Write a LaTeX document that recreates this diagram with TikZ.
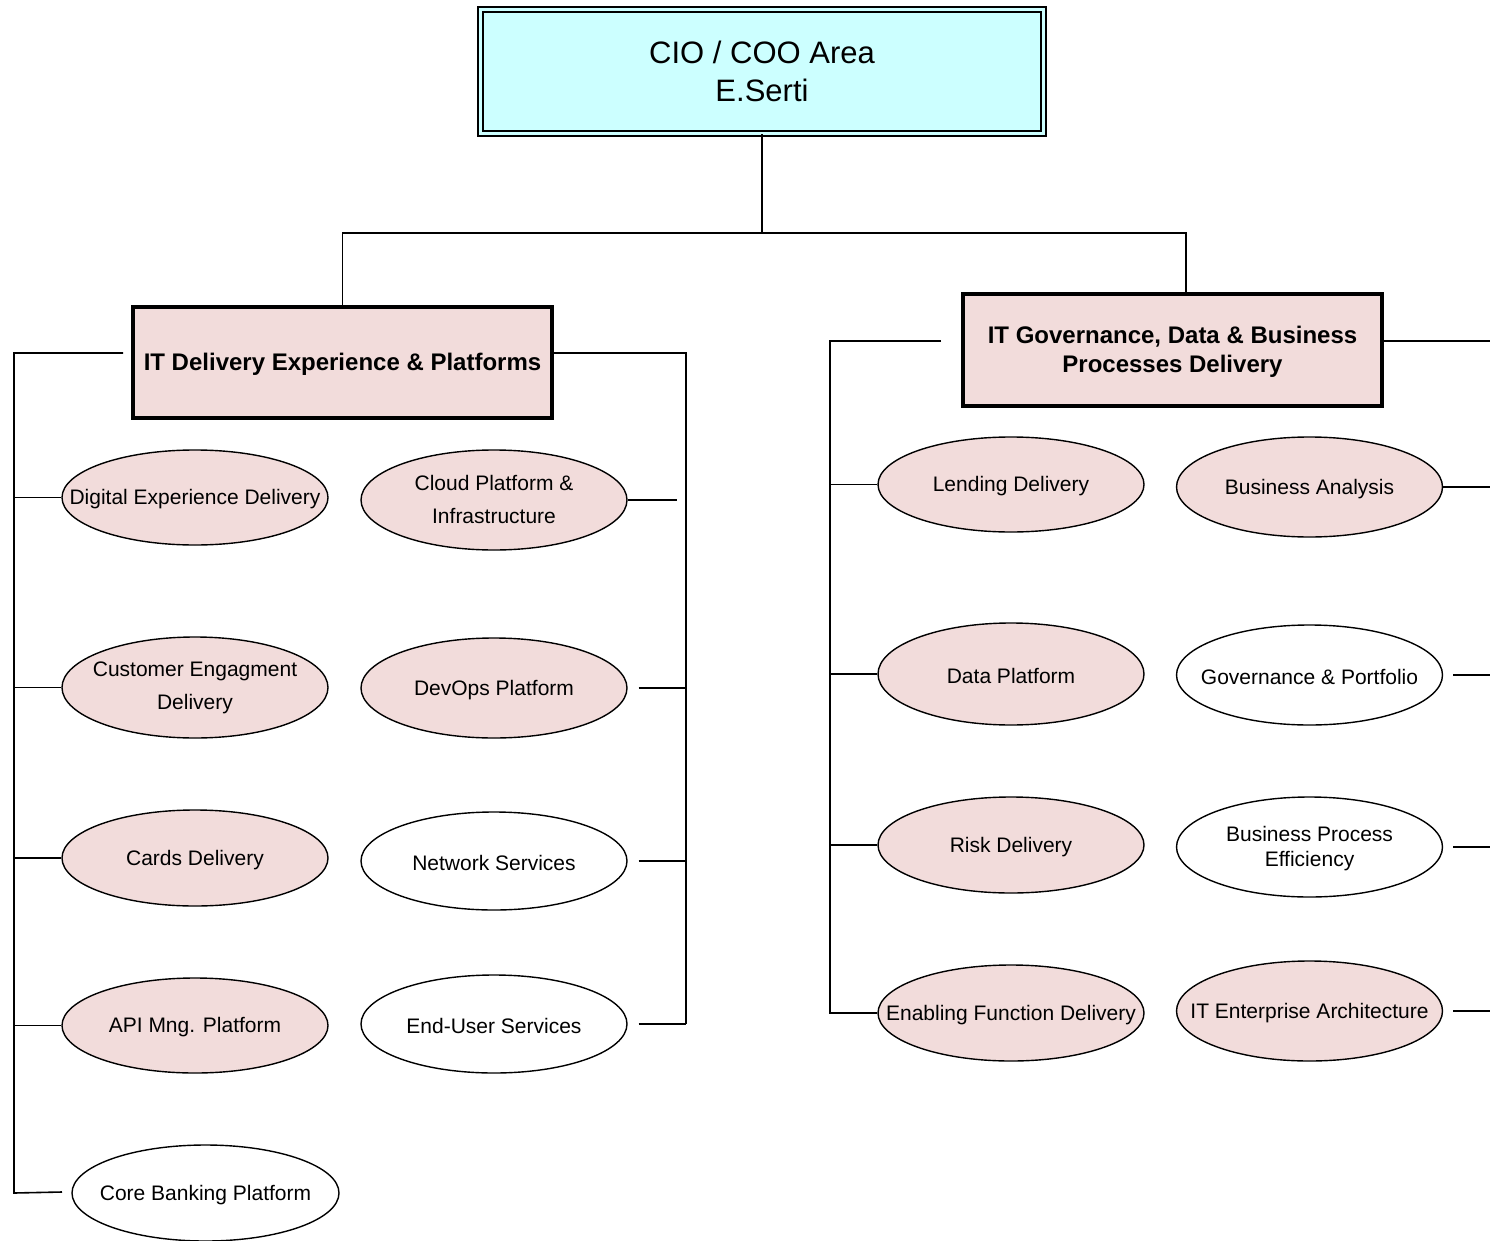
\documentclass[tikz,border=0pt]{standalone}
\usepackage{fontspec}
\setmainfont{Liberation Sans}
\usetikzlibrary{shapes.geometric,calc}
\definecolor{pinkfill}{HTML}{F2DCDB}
\definecolor{cyanfill}{HTML}{CCFFFF}
\begin{document}
\begin{tikzpicture}[x=1pt,y=-1pt,
  wire/.style={draw=black,line width=1.6pt},
  oval/.style={ellipse,draw=black,line width=1.4pt,minimum width=266pt,minimum height=96pt,inner sep=0pt},
  pinkoval/.style={oval,fill=pinkfill},
  whiteoval/.style={oval,fill=white},
  otext/.style={inner sep=0pt,align=center,yshift=-2pt,font=\fontsize{21}{33}\selectfont},
  grpbox/.style={rectangle,draw=black,line width=3.2pt,fill=pinkfill,minimum width=419pt,minimum height=111pt,inner sep=0pt,align=center,font=\bfseries\fontsize{24}{29}\selectfont},
  gtext/.style={inner sep=0pt,align=center,yshift=-2pt,font=\bfseries\fontsize{24}{29}\selectfont},
  topbox/.style={rectangle,draw=black,line width=1.8pt,double=cyanfill,double distance=3pt,fill=cyanfill,minimum width=563pt,minimum height=124pt,inner sep=0pt}]
\useasboundingbox[fill=white] (0,0) rectangle (1490,1241);

% top
\node[topbox] (top) at (762,71.5) {};
\node[inner sep=0pt,align=center,font=\fontsize{31}{38}\selectfont] (topt) at (top) {CIO / COO Area\\E.Serti};
\node[grpbox] (lbox) at (342.5,362.5) {};
\node[gtext] (lboxt) at (lbox) {IT Delivery Experience \& Platforms};
\node[grpbox,minimum height=112pt] (rbox) at (1172.5,350) {};
\node[gtext] (rboxt) at (rbox) {IT Governance, Data \& Business\\Processes Delivery};

\coordinate (tj) at (762,233);
\draw[wire] (top.south) -- (tj);
\draw[wire] (tj) -| (lbox.north);
\draw[wire] (tj) -| ([xshift=13.5pt]rbox.north);

% left group ovals
\node[pinkoval,minimum height=95pt] (e11) at (195,497.5) {};
\node[otext] (e11t) at (e11) {Digital Experience Delivery};
\node[pinkoval,minimum height=101pt] (e12) at (195,687.5) {};
\node[otext] (e12t) at ([yshift=2pt]e12) {Customer Engagment\\Delivery};
\node[pinkoval] (e13) at (195,858) {};
\node[otext] (e13t) at (e13) {Cards Delivery};
\node[pinkoval,minimum height=95pt] (e14) at (195,1025.5) {};
\node[otext] (e14t) at (e14) {API Mng. Platform};
\node[whiteoval,minimum width=267pt] (e15) at (205.5,1193) {};
\node[otext] (e15t) at (e15) {Core Banking Platform};

\node[pinkoval,minimum height=100pt] (e21) at (494,500) {};
\node[otext] (e21t) at ([yshift=2.5pt]e21) {Cloud Platform \&\\Infrastructure};
\node[pinkoval,minimum height=100pt] (e22) at (494,688) {};
\node[otext] (e22t) at (e22) {DevOps Platform};
\node[whiteoval,minimum height=98pt] (e23) at (494,861) {};
\node[otext] (e23t) at (e23) {Network Services};
\node[whiteoval,minimum height=98pt] (e24) at (494,1024) {};
\node[otext] (e24t) at (e24) {End-User Services};

% right group ovals
\node[pinkoval,minimum height=95pt] (f11) at (1011,484.5) {};
\node[otext] (f11t) at (f11) {Lending Delivery};
\node[pinkoval,minimum height=102pt] (f12) at (1011,674) {};
\node[otext] (f12t) at (f12) {Data Platform};
\node[pinkoval] (f13) at (1011,845) {};
\node[otext] (f13t) at (f13) {Risk Delivery};
\node[pinkoval] (f14) at (1011,1013) {};
\node[otext] (f14t) at (f14) {Enabling Function Delivery};

\node[pinkoval,minimum height=100pt] (f21) at (1309.5,487) {};
\node[otext] (f21t) at (f21) {Business Analysis};
\node[whiteoval,minimum height=100pt] (f22) at (1309.5,675) {};
\node[otext] (f22t) at (f22) {Governance \& Portfolio};
\node[whiteoval,minimum height=100pt] (f23) at (1309.5,847) {};
\node[otext,font=\fontsize{21}{25}\selectfont] (f23t) at (f23) {Business Process\\Efficiency};
\node[pinkoval,minimum height=100pt] (f24) at (1309.5,1011) {};
\node[otext] (f24t) at (f24) {IT Enterprise Architecture};

% left group buses
\coordinate (la) at (123,353);
\coordinate (lbus) at (14,353);
\coordinate (lend) at (14,1193);
\coordinate (cbend) at (62,1192);
\draw[wire] (la) -- (lbus) -- (lend) -- (cbend);
\foreach \n in {e11,e12,e13,e14} \draw[wire] (\n.west -| lbus) -- (\n.west);

\coordinate (lrb) at (686,353);
\draw[wire] (lbox.east |- la) -- (lrb) -- (e24.east -| lrb);
\draw[wire] (e21.east) -- ++(49,0);
\foreach \n in {e22,e23,e24} \draw[wire] ([xshift=11pt]\n.east) -- (\n.east -| lrb);

% right group buses
\coordinate (ra) at (941,341);
\coordinate (rbus) at (830,341);
\draw[wire] (ra) -- (rbus) -- (f14.west -| rbus) -- (f14.west);
\foreach \n in {f11,f12,f13} \draw[wire] (\n.west -| rbus) -- (\n.west);

\coordinate (redge) at (1490,341);
\draw[wire] (rbox.east |- redge) -- (redge);
\draw[wire] (f21.east) -- (f21.east -| redge);
\foreach \n in {f22,f23,f24} \draw[wire] ([xshift=10pt]\n.east) -- (\n.east -| redge);
\end{tikzpicture}
\end{document}
